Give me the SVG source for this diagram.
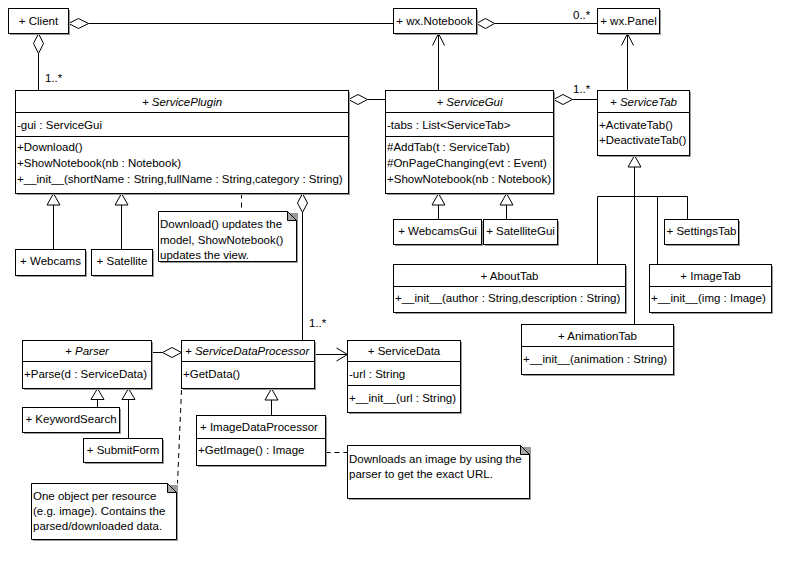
<svg xmlns="http://www.w3.org/2000/svg" width="800" height="584" viewBox="0 0 800 584">
<style>
.bg{fill:#fff}
.box{fill:#fff;stroke:#000;stroke-width:1}
.sh{fill:#9a9a9a}
.sep{stroke:#000;stroke-width:1;fill:none}
.ln{stroke:#000;stroke-width:1;fill:none}
.dash{stroke:#000;stroke-width:1;fill:none;stroke-dasharray:5,4}
.dia{fill:#fff;stroke:#000;stroke-width:1}
.tri{fill:#fff;stroke:#000;stroke-width:1}
.fold{fill:#a8a8a8;stroke:#000;stroke-width:1}
text{font-family:"Liberation Sans",Arial,sans-serif;font-size:11.5px;fill:#000}
.c{text-anchor:middle}
.i{font-style:italic}
</style>
<rect class="bg" x="0" y="0" width="800" height="584"/>

<g id="connectors">
  <!-- Client - wx.Notebook -->
  <line class="ln" x1="88.5" y1="23.5" x2="393.5" y2="23.5"/>
  <polygon class="dia" points="68.5,23.5 78.5,18.5 88.5,23.5 78.5,28.5"/>
  <!-- wx.Notebook - wx.Panel -->
  <line class="ln" x1="494.5" y1="23.5" x2="597.5" y2="23.5"/>
  <polygon class="dia" points="476.5,23.5 485.5,18.5 494.5,23.5 485.5,28.5"/>
  <text x="573" y="19">0..*</text>
  <!-- Client - ServicePlugin -->
  <line class="ln" x1="38.5" y1="53.5" x2="38.5" y2="90.5"/>
  <polygon class="dia" points="38.5,33.5 43.5,43.5 38.5,53.5 33.5,43.5"/>
  <text x="45" y="82">1..*</text>
  <!-- ServicePlugin - ServiceGui -->
  <line class="ln" x1="367.5" y1="99.5" x2="385.5" y2="99.5"/>
  <polygon class="dia" points="348.5,99.5 358,94.5 367.5,99.5 358,104.5"/>
  <!-- ServiceGui -> wx.Notebook -->
  <line class="ln" x1="438.5" y1="90.5" x2="438.5" y2="33.5"/>
  <polyline class="ln" points="432.5,45.5 438.5,33.5 444.5,45.5"/>
  <!-- ServiceGui - ServiceTab -->
  <line class="ln" x1="572.5" y1="99.5" x2="597.5" y2="99.5"/>
  <polygon class="dia" points="553.5,99.5 563,94.5 572.5,99.5 563,104.5"/>
  <text x="573" y="93">1..*</text>
  <!-- ServiceTab -> wx.Panel -->
  <line class="ln" x1="627.5" y1="90.5" x2="627.5" y2="33.5"/>
  <polyline class="ln" points="621.5,45.5 627.5,33.5 633.5,45.5"/>
  <!-- ServiceTab generalization tree -->
  <line class="ln" x1="634.5" y1="167" x2="634.5" y2="324.5"/>
  <polyline class="ln" points="597.5,264.5 597.5,196.5 687.5,196.5 687.5,219.5"/>
  <line class="ln" x1="657.5" y1="196.5" x2="657.5" y2="264.5"/>
  <polygon class="tri" points="634.5,155.5 641,167 628,167"/>
  <!-- ServiceGui subclasses -->
  <line class="ln" x1="438.5" y1="205" x2="438.5" y2="219.5"/>
  <polygon class="tri" points="438.5,193.5 445,205 432,205"/>
  <line class="ln" x1="506.5" y1="205" x2="506.5" y2="219.5"/>
  <polygon class="tri" points="506.5,193.5 513,205 500,205"/>
  <!-- ServicePlugin subclasses -->
  <line class="ln" x1="53.5" y1="205" x2="53.5" y2="249.5"/>
  <polygon class="tri" points="53.5,193.5 60,205 47,205"/>
  <line class="ln" x1="121.5" y1="205" x2="121.5" y2="249.5"/>
  <polygon class="tri" points="121.5,193.5 128,205 115,205"/>
  <!-- note 1 link -->
  <line class="dash" x1="241.5" y1="193.5" x2="241.5" y2="211.5"/>
  <!-- ServicePlugin - ServiceDataProcessor -->
  <line class="ln" x1="302.5" y1="212.5" x2="302.5" y2="340.5"/>
  <polygon class="dia" points="302.5,193.5 307.5,203 302.5,212.5 297.5,203"/>
  <text x="309" y="327">1..*</text>
  <!-- Parser - ServiceDataProcessor -->
  <line class="ln" x1="151.5" y1="352.5" x2="162.5" y2="352.5"/>
  <polygon class="dia" points="181.5,352.5 172,347.5 162.5,352.5 172,357.5"/>
  <!-- ServiceDataProcessor -> ServiceData -->
  <line class="ln" x1="314.5" y1="354.5" x2="347.5" y2="354.5"/>
  <polyline class="ln" points="336.5,348 347.5,354.5 336.5,361"/>
  <!-- Parser subclasses -->
  <line class="ln" x1="97.5" y1="399.5" x2="97.5" y2="407.5"/>
  <polygon class="tri" points="97.5,388.5 104,399.5 91,399.5"/>
  <line class="ln" x1="128.5" y1="399.5" x2="128.5" y2="438.5"/>
  <polygon class="tri" points="128.5,388.5 135,399.5 122,399.5"/>
  <!-- ImageDataProcessor generalization -->
  <line class="ln" x1="271.5" y1="400" x2="271.5" y2="415.5"/>
  <polygon class="tri" points="271.5,388.5 278,400 265,400"/>
  <!-- note links -->
  <line class="dash" x1="181.5" y1="390" x2="177.5" y2="483.5"/>
  <line class="dash" x1="325.5" y1="452.5" x2="347.5" y2="452.5"/>
</g>

<g id="Client">
  <rect class="sh" x="10" y="10" width="60" height="25"/>
  <rect class="box" x="8.5" y="8.5" width="60" height="25"/>
  <text class="c" x="38.5" y="25">+ Client</text>
</g>
<g id="wxNotebook">
  <rect class="sh" x="395" y="10" width="83" height="25"/>
  <rect class="box" x="393.5" y="8.5" width="83" height="25"/>
  <text class="c" x="434.5" y="25">+ wx.Notebook</text>
</g>
<g id="wxPanel">
  <rect class="sh" x="599" y="10" width="62" height="25"/>
  <rect class="box" x="597.5" y="8.5" width="62" height="25"/>
  <text class="c" x="628.5" y="25">+ wx.Panel</text>
</g>

<g id="ServicePlugin">
  <rect class="sh" x="17" y="92" width="333" height="103"/>
  <rect class="box" x="15.5" y="90.5" width="333" height="103"/>
  <line class="sep" x1="15.5" y1="112.5" x2="348.5" y2="112.5"/>
  <line class="sep" x1="15.5" y1="136.5" x2="348.5" y2="136.5"/>
  <text class="c i" x="182" y="106">+ ServicePlugin</text>
  <text x="17" y="128.5">-gui : ServiceGui</text>
  <text x="17" y="151">+Download()</text>
  <text x="17" y="167">+ShowNotebook(nb : Notebook)</text>
  <text x="17" y="182.5">+__init__(shortName : String,fullName : String,category : String)</text>
</g>

<g id="ServiceGui">
  <rect class="sh" x="387" y="92" width="168" height="103"/>
  <rect class="box" x="385.5" y="90.5" width="168" height="103"/>
  <line class="sep" x1="385.5" y1="112.5" x2="553.5" y2="112.5"/>
  <line class="sep" x1="385.5" y1="136.5" x2="553.5" y2="136.5"/>
  <text class="c i" x="469.5" y="106">+ ServiceGui</text>
  <text x="387" y="128.5">-tabs : List&lt;ServiceTab&gt;</text>
  <text x="387" y="151">#AddTab(t : ServiceTab)</text>
  <text x="387" y="167">#OnPageChanging(evt : Event)</text>
  <text x="387" y="182.5">+ShowNotebook(nb : Notebook)</text>
</g>

<g id="ServiceTab">
  <rect class="sh" x="599" y="92" width="92" height="65"/>
  <rect class="box" x="597.5" y="90.5" width="92" height="65"/>
  <line class="sep" x1="597.5" y1="112.5" x2="689.5" y2="112.5"/>
  <text class="c i" x="643.5" y="106">+ ServiceTab</text>
  <text x="599" y="129">+ActivateTab()</text>
  <text x="599" y="143.5">+DeactivateTab()</text>
</g>

<g id="WebcamsGui">
  <rect class="sh" x="395" y="221" width="88" height="25"/>
  <rect class="box" x="393.5" y="219.5" width="88" height="25"/>
  <text class="c" x="437.5" y="234.5">+ WebcamsGui</text>
</g>
<g id="SatelliteGui">
  <rect class="sh" x="485" y="221" width="74" height="25"/>
  <rect class="box" x="483.5" y="219.5" width="74" height="25"/>
  <text class="c" x="520.5" y="234.5">+ SatelliteGui</text>
</g>
<g id="SettingsTab">
  <rect class="sh" x="666" y="221" width="74" height="25"/>
  <rect class="box" x="664.5" y="219.5" width="74" height="25"/>
  <text class="c" x="701.5" y="234.5">+ SettingsTab</text>
</g>

<g id="AboutTab">
  <rect class="sh" x="395" y="266" width="232" height="48"/>
  <rect class="box" x="393.5" y="264.5" width="232" height="48"/>
  <line class="sep" x1="393.5" y1="286.5" x2="625.5" y2="286.5"/>
  <text class="c" x="509.5" y="279.5">+ AboutTab</text>
  <text x="395" y="301.5">+__init__(author : String,description : String)</text>
</g>
<g id="ImageTab">
  <rect class="sh" x="651" y="266" width="122" height="48"/>
  <rect class="box" x="649.5" y="264.5" width="122" height="48"/>
  <line class="sep" x1="649.5" y1="286.5" x2="771.5" y2="286.5"/>
  <text class="c" x="710.5" y="279.5">+ ImageTab</text>
  <text x="651" y="301.5">+__init__(img : Image)</text>
</g>
<g id="AnimationTab">
  <rect class="sh" x="523" y="326" width="152" height="50"/>
  <rect class="box" x="521.5" y="324.5" width="152" height="50"/>
  <line class="sep" x1="521.5" y1="346.5" x2="673.5" y2="346.5"/>
  <text class="c" x="597.5" y="339.5">+ AnimationTab</text>
  <text x="523" y="362.5">+__init__(animation : String)</text>
</g>

<g id="Webcams">
  <rect class="sh" x="17" y="251" width="70" height="26"/>
  <rect class="box" x="15.5" y="249.5" width="70" height="26"/>
  <text class="c" x="50.5" y="264.5">+ Webcams</text>
</g>
<g id="Satellite">
  <rect class="sh" x="93" y="251" width="61" height="26"/>
  <rect class="box" x="91.5" y="249.5" width="61" height="26"/>
  <text class="c" x="122" y="264.5">+ Satellite</text>
</g>

<g id="Note1">
  <path class="sh" d="M160,213 H298 V263 H160 Z"/>
  <path class="box" d="M158.5,211.5 H287.5 L296.5,220.5 V261.5 H158.5 Z"/>
  <path class="fold" d="M287.5,211.5 L296.5,220.5 H287.5 Z"/>
  <text x="160" y="228">Download() updates the</text>
  <text x="160" y="244">model, ShowNotebook()</text>
  <text x="160" y="258.5">updates the view.</text>
</g>

<g id="Parser">
  <rect class="sh" x="24" y="342" width="129" height="48"/>
  <rect class="box" x="22.5" y="340.5" width="129" height="48"/>
  <line class="sep" x1="22.5" y1="361.5" x2="151.5" y2="361.5"/>
  <text class="c i" x="87" y="355">+ Parser</text>
  <text x="24" y="377.5">+Parse(d : ServiceData)</text>
</g>
<g id="ServiceDataProcessor">
  <rect class="sh" x="183" y="342" width="133" height="48"/>
  <rect class="box" x="181.5" y="340.5" width="133" height="48"/>
  <line class="sep" x1="181.5" y1="361.5" x2="314.5" y2="361.5"/>
  <text class="i" x="185" y="355">+ ServiceDataProcessor</text>
  <text x="183" y="377.5">+GetData()</text>
</g>
<g id="ServiceData">
  <rect class="sh" x="349" y="342" width="113" height="72"/>
  <rect class="box" x="347.5" y="340.5" width="113" height="72"/>
  <line class="sep" x1="347.5" y1="361.5" x2="460.5" y2="361.5"/>
  <line class="sep" x1="347.5" y1="385.5" x2="460.5" y2="385.5"/>
  <text class="c" x="404" y="355">+ ServiceData</text>
  <text x="349" y="377.5">-url : String</text>
  <text x="349" y="401.5">+__init__(url : String)</text>
</g>
<g id="KeywordSearch">
  <rect class="sh" x="24" y="409" width="97" height="25"/>
  <rect class="box" x="22.5" y="407.5" width="97" height="25"/>
  <text class="c" x="71" y="423">+ KeywordSearch</text>
</g>
<g id="SubmitForm">
  <rect class="sh" x="85" y="440" width="79" height="24"/>
  <rect class="box" x="83.5" y="438.5" width="79" height="24"/>
  <text class="c" x="123" y="453.5">+ SubmitForm</text>
</g>
<g id="ImageDataProcessor">
  <rect class="sh" x="198" y="417" width="129" height="50"/>
  <rect class="box" x="196.5" y="415.5" width="129" height="50"/>
  <line class="sep" x1="196.5" y1="438.5" x2="325.5" y2="438.5"/>
  <text x="200" y="431">+ ImageDataProcessor</text>
  <text x="198" y="453.5">+GetImage() : Image</text>
</g>

<g id="Note2">
  <path class="sh" d="M33,485 H178 V541 H33 Z"/>
  <path class="box" d="M31.5,483.5 H167.5 L176.5,492.5 V539.5 H31.5 Z"/>
  <path class="fold" d="M167.5,483.5 L176.5,492.5 H167.5 Z"/>
  <text x="33" y="500">One object per resource</text>
  <text x="33" y="515">(e.g. image). Contains the</text>
  <text x="33" y="530">parsed/downloaded data.</text>
</g>
<g id="Note3">
  <path class="sh" d="M349,447 H531 V500 H349 Z"/>
  <path class="box" d="M347.5,445.5 H520.5 L529.5,454.5 V498.5 H347.5 Z"/>
  <path class="fold" d="M520.5,445.5 L529.5,454.5 H520.5 Z"/>
  <text x="349" y="463">Downloads an image by using the</text>
  <text x="349" y="477.5">parser to get the exact URL.</text>
</g>
</svg>
